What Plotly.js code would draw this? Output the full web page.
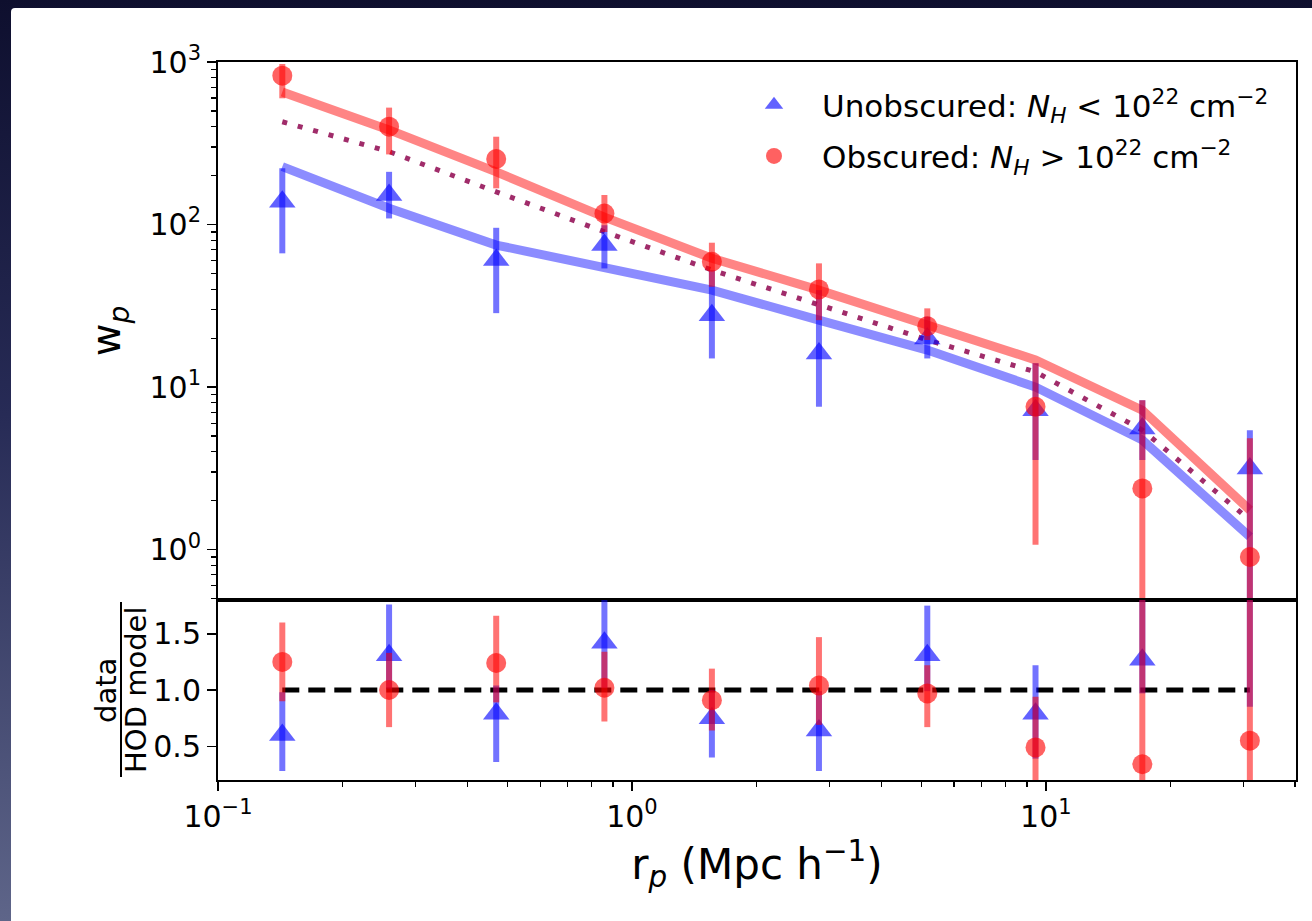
<!DOCTYPE html>
<html>
<head>
<meta charset="utf-8">
<script src="https://cdn.plot.ly/plotly-3.0.1.min.js"></script>
<style>
  html, body { margin: 0; padding: 0; width: 1312px; height: 921px; overflow: hidden;
    background: linear-gradient(to bottom, #0e0f2e 0%, #272b56 45%, #5e6589 100%); }
  #sheet { position: absolute; left: 11px; top: 8px; right: 0; bottom: 0; background: #ffffff;
    border-top-left-radius: 4px; }
  #chart { position: absolute; left: 0; top: 0; width: 1312px; height: 921px; }
</style>
</head>
<body>
<div id="sheet"></div>
<div id="chart"></div>
<script>
// Projected separation bins (Mpc/h)
const rp = [0.143, 0.259, 0.470, 0.858, 1.56, 2.83, 5.17, 9.44, 17.1, 31.1];

// Obscured AGN: w_p with upper / lower error bounds
const wpObs   = [824, 400, 253, 117, 59.0, 39.9, 23.7, 7.57, 2.38, 0.90];
const wpObsHi = [972, 524, 347, 152, 77.3, 57.7, 30.5, 14.0, 8.3, 4.85];
const wpObsLo = [598, 270, 167, 90.0, 41.4, 25.8, 19.5, 1.07, 0.02, 0.02];

// Unobscured AGN: w_p with upper / lower error bounds
const wpUnobs   = [138, 152, 60.5, 74.8, 27.7, 16.1, 19.9, 7.2, 5.57, 3.16];
const wpUnobsHi = [222, 211, 95.5, 99.0, 52.5, 39.5, 27.1, 14.0, 8.3, 5.43];
const wpUnobsLo = [66.5, 109, 28.5, 53.7, 15.0, 7.57, 15.0, 3.56, 3.56, 0.02];

// HOD model curves
const hodObs    = [653, 382, 211, 111, 62.0, 39.5, 24.1, 14.7, 7.2, 1.75];
const hodUnobs  = [227, 126, 74.8, 53.7, 39.5, 25.8, 16.9, 10.0, 4.72, 1.20];
const hodDotted = [429, 281, 159, 90.3, 52.5, 32.0, 19.5, 12.4, 5.44, 1.52];

// data / HOD model ratios
const ratioObs   = [1.25, 1.00, 1.24, 1.02, 0.91, 1.04, 0.97, 0.49, 0.34, 0.55];
const ratioObsHi = [1.60, 1.33, 1.66, 1.34, 1.19, 1.47, 1.22, 0.94, 1.94, 2.05];
const ratioObsLo = [0.90, 0.67, 0.89, 0.72, 0.64, 0.69, 0.67, 0.00, 0.00, 0.00];
const ratioUnobs   = [0.60, 1.31, 0.79, 1.42, 0.75, 0.64, 1.31, 0.79, 1.27, 2.75];
const ratioUnobsHi = [0.98, 1.76, 1.04, 1.82, 1.00, 0.99, 1.75, 1.22, 1.87, 4.65];
const ratioUnobsLo = [0.28, 1.01, 0.36, 1.02, 0.40, 0.28, 0.99, 0.39, 0.97, 0.85];

// Axis tick labels
const xTickVals = [0.1, 1, 10];
const xTickText = ['10<sup>\u22121</sup>', '10<sup>0</sup>', '10<sup>1</sup>'];
const yTickVals = [1, 10, 100, 1000];
const yTickText = ['10<sup>0</sup>', '10<sup>1</sup>', '10<sup>2</sup>', '10<sup>3</sup>'];
const rTickVals = [0.5, 1.0, 1.5];
const rTickText = ['0.5', '1.0', '1.5'];

const legendObs   = 'Obscured: <i>N<sub>H</sub></i> &gt; 10<sup>22</sup> cm<sup>\u22122</sup>';
const legendUnobs = 'Unobscured: <i>N<sub>H</sub></i> &lt; 10<sup>22</sup> cm<sup>\u22122</sup>';

// minor log ticks (2..9 of each decade)
function minorLogTicks(lo, hi) {
  const out = [];
  for (let d = lo; d <= hi; d++) {
    for (let m = 2; m <= 9; m++) out.push(m * Math.pow(10, d));
  }
  return out;
}

const diff = (a, b) => a.map((v, i) => v - b[i]);

const RED = 'rgba(255,0,0,0.62)';
const BLUE = 'rgba(0,0,255,0.62)';
const REDBAR = 'rgba(255,0,0,0.55)';
const BLUEBAR = 'rgba(0,0,255,0.55)';

const traces = [
  // model curves
  { x: rp, y: hodObs, xaxis: 'x', yaxis: 'y', mode: 'lines', showlegend: false,
    line: { color: 'rgba(255,0,0,0.48)', width: 9 } },
  { x: rp, y: hodUnobs, xaxis: 'x', yaxis: 'y', mode: 'lines', showlegend: false,
    line: { color: 'rgba(0,0,255,0.45)', width: 9 } },
  { x: rp, y: hodDotted, xaxis: 'x', yaxis: 'y', mode: 'lines', showlegend: false,
    line: { color: '#a02c6a', width: 5, dash: '5px,11px' } },
  // measurements
  { x: rp, y: wpUnobs, xaxis: 'x', yaxis: 'y', mode: 'markers', name: legendUnobs,
    legendgroup: 'u',
    marker: { symbol: 'triangle-up', size: 23, color: BLUE },
    error_y: { type: 'data', array: diff(wpUnobsHi, wpUnobs), arrayminus: diff(wpUnobs, wpUnobsLo),
      color: BLUEBAR, thickness: 6, width: 0 } },
  { x: rp, y: wpObs, xaxis: 'x', yaxis: 'y', mode: 'markers', name: legendObs,
    legendgroup: 'o',
    marker: { symbol: 'circle', size: 20, color: RED },
    error_y: { type: 'data', array: diff(wpObsHi, wpObs), arrayminus: diff(wpObs, wpObsLo),
      color: REDBAR, thickness: 6, width: 0 } },
  // ratio panel
  { x: [rp[0], rp[rp.length - 1]], y: [1, 1], xaxis: 'x2', yaxis: 'y2', mode: 'lines',
    showlegend: false, line: { color: '#000000', width: 5, dash: '17px,9px' } },
  { x: rp, y: ratioUnobs, xaxis: 'x2', yaxis: 'y2', mode: 'markers', showlegend: false,
    marker: { symbol: 'triangle-up', size: 23, color: BLUE },
    error_y: { type: 'data', array: diff(ratioUnobsHi, ratioUnobs), arrayminus: diff(ratioUnobs, ratioUnobsLo),
      color: BLUEBAR, thickness: 6, width: 0 } },
  { x: rp, y: ratioObs, xaxis: 'x2', yaxis: 'y2', mode: 'markers', showlegend: false,
    marker: { symbol: 'circle', size: 20, color: RED },
    error_y: { type: 'data', array: diff(ratioObsHi, ratioObs), arrayminus: diff(ratioObs, ratioObsLo),
      color: REDBAR, thickness: 6, width: 0 } }
];

// plot-area pixel helpers (plot area spans x 218..1296, y 62..780)
const L = 218, R = 1296, T = 62, B = 780;
const px = x => (x - L) / (R - L);
const py = y => (B - y) / (B - T);
const split = py(600);

const FONT = 'DejaVu Sans, Arial, sans-serif';
const axisLine = { showline: true, linecolor: '#000', linewidth: 2, mirror: true, zeroline: false, showgrid: false };
const TICKSIZE = 30;

const layout = {
  width: 1312, height: 921, autosize: false,
  margin: { l: L, r: 1312 - R, t: T, b: 921 - B, pad: 0 },
  paper_bgcolor: 'rgba(0,0,0,0)', plot_bgcolor: '#ffffff',
  font: { family: FONT, color: '#000', size: TICKSIZE },
  showlegend: true,
  legend: { x: px(726), xanchor: 'left', y: py(78), yanchor: 'top', yref: 'paper',
    font: { family: FONT, size: 31, color: '#000' }, bgcolor: 'rgba(0,0,0,0)',
    traceorder: 'grouped', tracegroupgap: 8, itemwidth: 86 },
  xaxis: Object.assign({}, axisLine, { type: 'log', range: [-1, Math.log10(40.2)], domain: [0, 1],
    anchor: 'y', showticklabels: false, ticks: '' , matches: 'x2' }),
  yaxis: Object.assign({}, axisLine, { type: 'log', range: [-0.31, 3.0], domain: [split, 1],
    anchor: 'x', tickmode: 'array', tickvals: yTickVals, ticktext: yTickText,
    ticks: 'outside', ticklen: 9, tickwidth: 1.5, tickcolor: '#000',
    tickfont: { family: FONT, size: TICKSIZE },
    minor: { tickmode: 'array', tickvals: minorLogTicks(-1, 2), ticks: 'outside', ticklen: 5, tickwidth: 1.2, tickcolor: '#000' },
    title: { text: 'w<sub><i>p</i></sub>', font: { family: FONT, size: 40 }, standoff: 16 } }),
  xaxis2: Object.assign({}, axisLine, { type: 'log', range: [-1, Math.log10(40.2)], domain: [0, 1],
    anchor: 'y2', tickmode: 'array', tickvals: xTickVals, ticktext: xTickText,
    ticks: 'outside', ticklen: 9, tickwidth: 1.5, tickcolor: '#000',
    tickfont: { family: FONT, size: TICKSIZE },
    minor: { tickmode: 'array', tickvals: minorLogTicks(-1, 1), ticks: 'outside', ticklen: 5, tickwidth: 1.2, tickcolor: '#000' },
    title: { text: 'r<sub><i>p</i></sub> (Mpc h<sup>\u22121</sup>)', font: { family: FONT, size: 42 }, standoff: 10 } }),
  yaxis2: Object.assign({}, axisLine, { range: [0.2, 1.8], domain: [0, split], anchor: 'x2',
    tickmode: 'array', tickvals: rTickVals, ticktext: rTickText,
    ticks: 'outside', ticklen: 9, tickwidth: 1.5, tickcolor: '#000',
    tickfont: { family: FONT, size: TICKSIZE } }),
  annotations: [
    { text: 'data', xref: 'paper', yref: 'paper', x: px(106), y: py(690), textangle: -90,
      showarrow: false, xanchor: 'center', yanchor: 'middle', font: { family: FONT, size: 29 } },
    { text: 'HOD model', xref: 'paper', yref: 'paper', x: px(136), y: py(690), textangle: -90,
      showarrow: false, xanchor: 'center', yanchor: 'middle', font: { family: FONT, size: 29 } }
  ],
  shapes: [
    { type: 'line', xref: 'paper', yref: 'paper', x0: px(121), x1: px(121), y0: py(777), y1: py(602),
      line: { color: '#000', width: 2 } }
  ]
};

Plotly.newPlot('chart', traces, layout, { displayModeBar: false, staticPlot: true });
</script>
</body>
</html>
